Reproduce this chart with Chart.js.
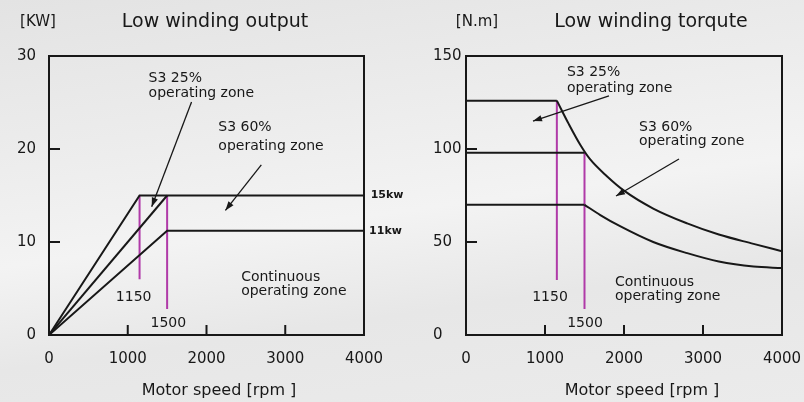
<!DOCTYPE html>
<html>
<head>
<meta charset="utf-8">
<script src="https://cdn.jsdelivr.net/npm/chart.js@4.4.1/dist/chart.umd.min.js"></script>
<style>
    html, body { margin: 0; padding: 0; }
    body {
        width: 804px; height: 402px; overflow: hidden; position: relative;
        background: linear-gradient(172deg, #e3e3e3 0%, #ececec 30%, #f3f3f3 52%, #e7e7e7 72%, #ebebeb 100%);
    }
    #outputChart { position: absolute; left: 0; top: 0; }
    #torqueChart { position: absolute; left: 400px; top: 0; }
</style>
</head>
<body>
<canvas id="outputChart" width="420" height="402"></canvas>
<canvas id="torqueChart" width="404" height="402"></canvas>
<script>
// Low winding output [kW]
const s25Speed = [0, 1150, 4000];
const s25Kw = [0, 15, 15];
const s60Speed = [0, 1500];
const s60Kw = [0, 15];
const contSpeed = [0, 1500, 4000];
const contKw = [0, 11.2, 11.2];
const kwTicks = [0, 10, 20, 30];

// Low winding torque [N.m]
const t25FlatSpeed = [0, 1150];
const t25FlatNm = [126, 126];
const t25CurveSpeed = [1150, 1300, 1450, 1570, 1780, 2000, 2370, 2800, 3200, 3640, 4000];
const t25CurveNm = [126, 113.5, 102, 94.5, 85.5, 77.6, 68, 60, 54, 49, 45];
const t60FlatSpeed = [0, 1500];
const t60FlatNm = [98, 98];
const tContFlatSpeed = [0, 1500];
const tContFlatNm = [70, 70];
const tContCurveSpeed = [1500, 1700, 1950, 2370, 2800, 3200, 3640, 4000];
const tContCurveNm = [70, 64.5, 58.5, 50, 44, 39.5, 36.8, 36];
const nmTicks = [0, 50, 100, 150];

// speed markers (magenta)
const markSpeeds = [1150, 1500];
const markKwTop = [15, 15];
const markKwBottom = [6, 2.8];
const markNmTop = [126, 98];
const markNmBottom = [29.6, 14];

const speedTicks = [0, 1000, 2000, 3000, 4000];

const FONT = '"DejaVu Sans", sans-serif';
const INK = '#181818';
const MAGENTA = '#b03aa8';

function pts(xs, ys) {
    return xs.map((x, i) => ({ x: x, y: ys[i] }));
}

function blackLine(xs, ys, curved) {
    return {
        data: pts(xs, ys),
        borderColor: INK,
        borderWidth: 2,
        pointRadius: 0,
        tension: curved ? 0.4 : 0,
        cubicInterpolationMode: curved ? 'monotone' : 'default'
    };
}

function markLines(tops, bottoms) {
    return markSpeeds.map((s, i) => ({
        data: pts([s, s], [tops[i], bottoms[i]]),
        borderColor: MAGENTA,
        borderWidth: 2,
        pointRadius: 0
    }));
}

// frame, inward ticks, titles and notes
const sketchPlugin = {
    id: 'sketch',
    afterDatasetsDraw(chart, args, opts) {
        const ctx = chart.ctx;
        const area = chart.chartArea;
        const xs = chart.scales.x;
        const ys = chart.scales.y;
        ctx.save();

        ctx.strokeStyle = INK;
        ctx.lineWidth = 2;
        ctx.strokeRect(area.left, area.top, area.right - area.left, area.bottom - area.top);

        ctx.beginPath();
        xs.ticks.forEach(t => {
            if (t.value <= xs.min || t.value >= xs.max) return;
            const px = xs.getPixelForValue(t.value);
            ctx.moveTo(px, area.bottom);
            ctx.lineTo(px, area.bottom - 10);
        });
        ys.ticks.forEach(t => {
            if (t.value <= ys.min || t.value >= ys.max) return;
            const py = ys.getPixelForValue(t.value);
            ctx.moveTo(area.left, py);
            ctx.lineTo(area.left + 11, py);
        });
        ctx.stroke();

        ctx.fillStyle = INK;
        ctx.textBaseline = 'middle';
        ctx.textAlign = 'center';
        ctx.font = '15px ' + FONT;
        ctx.fillText(opts.unit, opts.unitX, 22);
        ctx.font = '19px ' + FONT;
        ctx.fillText(opts.title, opts.titleX, 22);
        ctx.font = '16px ' + FONT;
        ctx.fillText('Motor speed [rpm ]', opts.xTitleX, 391);

        opts.notes.forEach(n => {
            ctx.font = n.font || ('14px ' + FONT);
            ctx.textAlign = n.align || 'left';
            ctx.fillText(n.text, xs.getPixelForValue(n.x), ys.getPixelForValue(n.y));
        });

        ctx.lineWidth = 1.3;
        opts.arrows.forEach(a => {
            const x1 = xs.getPixelForValue(a.from[0]), y1 = ys.getPixelForValue(a.from[1]);
            const x2 = xs.getPixelForValue(a.to[0]), y2 = ys.getPixelForValue(a.to[1]);
            const ang = Math.atan2(y2 - y1, x2 - x1);
            ctx.beginPath();
            ctx.moveTo(x1, y1);
            ctx.lineTo(x2, y2);
            ctx.stroke();
            ctx.beginPath();
            ctx.moveTo(x2, y2);
            ctx.lineTo(x2 - 9 * Math.cos(ang) + 3.2 * Math.sin(ang), y2 - 9 * Math.sin(ang) - 3.2 * Math.cos(ang));
            ctx.lineTo(x2 - 9 * Math.cos(ang) - 3.2 * Math.sin(ang), y2 - 9 * Math.sin(ang) + 3.2 * Math.cos(ang));
            ctx.closePath();
            ctx.fill();
        });
        ctx.restore();
    }
};

function makeScales(yMax, yTicks, yWidth, crossAlign, yPad) {
    return {
        x: {
            type: 'linear', min: 0, max: 4000,
            // hidden grid, but tickLength still pushes the labels down
            grid: { display: false, drawTicks: true, tickLength: 15 },
            border: { display: false },
            afterBuildTicks: s => { s.ticks = speedTicks.map(v => ({ value: v })); },
            ticks: { padding: 0, color: INK, font: { family: FONT, size: 15 }, callback: v => String(v) },
            afterFit: s => { s.height = 67; }
        },
        y: {
            type: 'linear', min: 0, max: yMax,
            grid: { display: false, drawTicks: false },
            border: { display: false },
            afterBuildTicks: s => { s.ticks = yTicks.map(v => ({ value: v })); },
            ticks: { padding: yPad, crossAlign: crossAlign, color: INK, font: { family: FONT, size: 15 }, callback: v => String(v) },
            afterFit: s => { s.width = yWidth; }
        }
    };
}

const smallBold = 'bold 11px ' + FONT;

new Chart(document.getElementById('outputChart'), {
    type: 'line',
    data: {
        datasets: [
            blackLine(s25Speed, s25Kw),
            blackLine(s60Speed, s60Kw),
            blackLine(contSpeed, contKw),
            ...markLines(markKwTop, markKwBottom)
        ]
    },
    options: {
        responsive: false,
        animation: false,
        layout: { padding: { left: 0, right: 56, top: 56, bottom: 0 } },
        scales: makeScales(30, kwTicks, 49, 'near', 13),
        plugins: {
            legend: { display: false },
            tooltip: { enabled: false },
            sketch: {
                unit: '[KW]', unitX: 38,
                title: 'Low winding output', titleX: 215,
                xTitleX: 219,
                notes: [
                    { text: 'S3 25%', x: 1265, y: 27.6 },
                    { text: 'operating zone', x: 1265, y: 26.0 },
                    { text: 'S3 60%', x: 2150, y: 22.3 },
                    { text: 'operating zone', x: 2150, y: 20.3 },
                    { text: 'Continuous', x: 2440, y: 6.2 },
                    { text: 'operating zone', x: 2440, y: 4.7 },
                    { text: '1150', x: 1075, y: 4.1, align: 'center' },
                    { text: '1500', x: 1515, y: 1.3, align: 'center' },
                    { text: '15kw', x: 4085, y: 15, font: smallBold },
                    { text: '11kw', x: 4065, y: 11.2, font: smallBold }
                ],
                arrows: [
                    { from: [1810, 25.05], to: [1304, 13.8] },
                    { from: [2696, 18.3], to: [2240, 13.4] }
                ]
            }
        }
    },
    plugins: [sketchPlugin]
});

new Chart(document.getElementById('torqueChart'), {
    type: 'line',
    data: {
        datasets: [
            blackLine(t25FlatSpeed, t25FlatNm),
            blackLine(t25CurveSpeed, t25CurveNm, true),
            blackLine(t60FlatSpeed, t60FlatNm),
            blackLine(tContFlatSpeed, tContFlatNm),
            blackLine(tContCurveSpeed, tContCurveNm, true),
            ...markLines(markNmTop, markNmBottom)
        ]
    },
    options: {
        responsive: false,
        animation: false,
        layout: { padding: { left: 33, right: 22, top: 56, bottom: 0 } },
        scales: makeScales(150, nmTicks, 33, 'far', 3),
        plugins: {
            legend: { display: false },
            tooltip: { enabled: false },
            sketch: {
                unit: '[N.m]', unitX: 77,
                title: 'Low winding torqute', titleX: 251,
                xTitleX: 242,
                notes: [
                    { text: 'S3 25%', x: 1278, y: 141.4 },
                    { text: 'operating zone', x: 1278, y: 132.8 },
                    { text: 'S3 60%', x: 2190, y: 111.8 },
                    { text: 'operating zone', x: 2190, y: 104.3 },
                    { text: 'Continuous', x: 1886, y: 28.5 },
                    { text: 'operating zone', x: 1886, y: 21 },
                    { text: '1150', x: 1063, y: 20.4, align: 'center' },
                    { text: '1500', x: 1506, y: 6.45, align: 'center' }
                ],
                arrows: [
                    { from: [1810, 128.5], to: [848, 115] },
                    { from: [2696, 94.6], to: [1899, 74.7] }
                ]
            }
        }
    },
    plugins: [sketchPlugin]
});
</script>
</body>
</html>
